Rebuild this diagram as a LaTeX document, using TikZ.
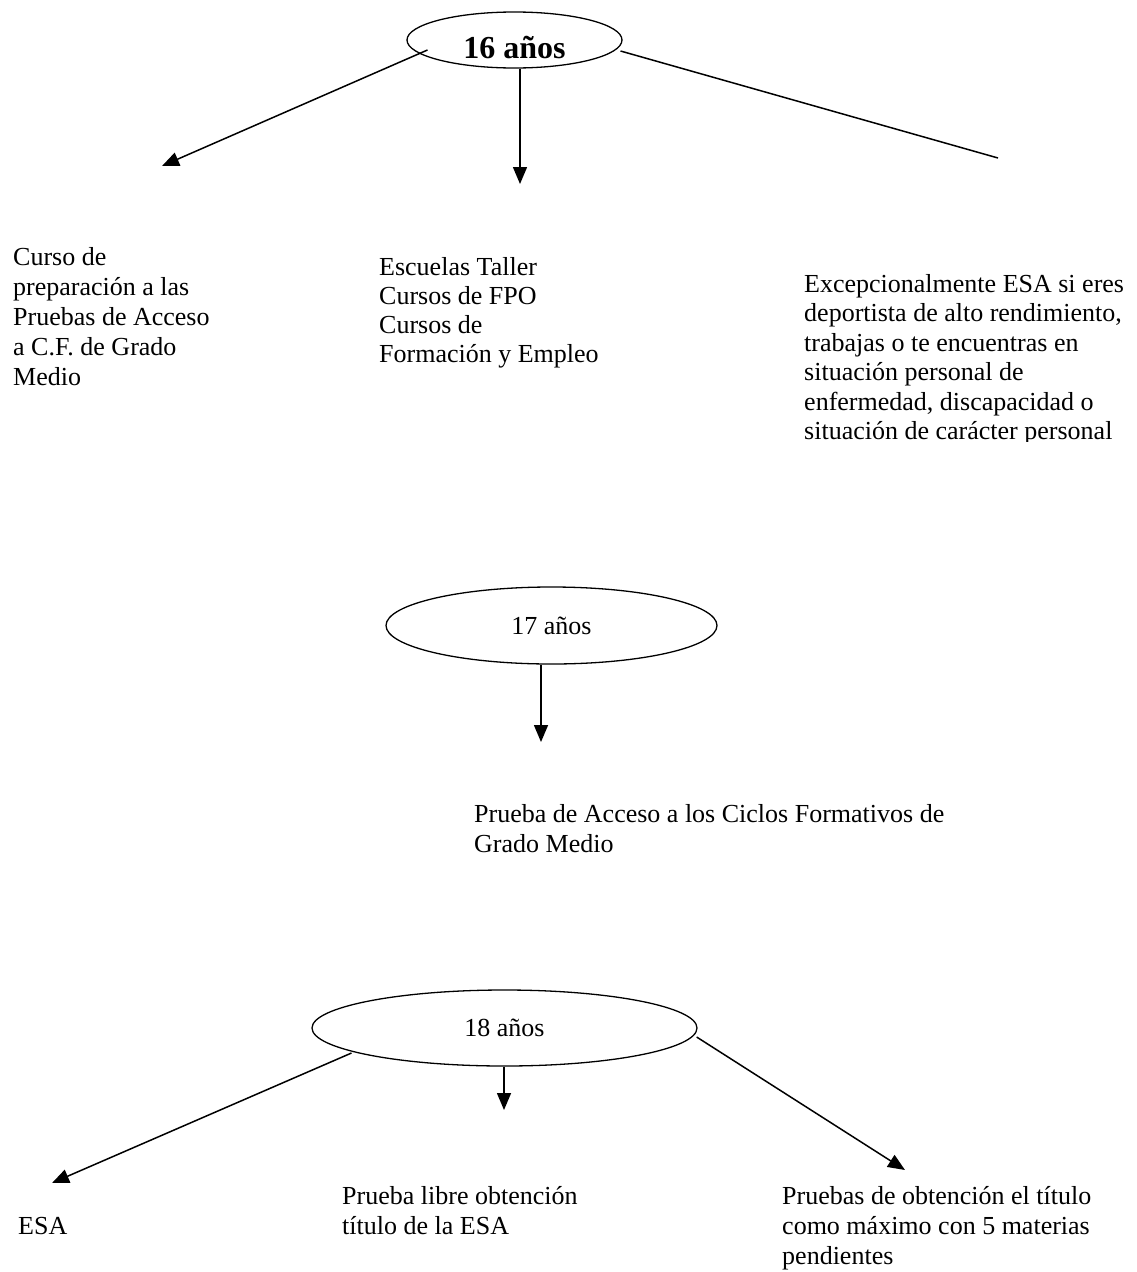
\documentclass[tikz,border=0pt]{standalone}
\usepackage{fontspec}
\setmainfont{Liberation Serif}
\usetikzlibrary{shapes.geometric,arrows.meta,calc}
\begin{document}
\begin{tikzpicture}[x=1pt,y=-1pt,
  txt/.style={font=\fontsize{26}{#1}\selectfont, align=left, inner sep=0pt, anchor=base west},
  txt/.default=30,
  age/.style={draw, ellipse, line width=1.3pt, inner sep=0pt, font=\fontsize{26}{30}\selectfont},
  conn/.style={line width=1.5pt},
  arr/.style={conn, -{Triangle[length=17pt,width=14pt]}}]
\useasboundingbox (0,0) rectangle (1137,1272);
\fill[white] (0,0) rectangle (1137,1272);

% 16 anos
\node[age, minimum width=215pt, minimum height=56pt, text height=37pt, text depth=0pt,
      font=\fontsize{32}{32}\selectfont\bfseries] (e16) at (514.5,40) {16 años};
\coordinate (a16l) at (162,166);
\coordinate (a16m) at (520,184);
\coordinate (a16r) at (998,158);
\draw[arr] ($(e16.center)+(-87,10)$) -- (a16l);
\draw[arr] (e16.south -| a16m) -- (a16m);
\draw[conn] ($(e16.center)+(106,11)$) -- (a16r);

\node[txt=30] (tl) at (13,385) {Curso de\\preparación a las\\Pruebas de Acceso\\a C.F. de Grado\\Medio};
\node[txt=29] (tm) at (379,362) {Escuelas Taller\\Cursos de FPO\\Cursos de\\Formación y Empleo};
\begin{scope}
\clip (780,240) rectangle (1137,441);
\node[txt=29.5] (tr) at (804,439.5) {Excepcionalmente ESA si eres\\deportista de alto rendimiento,\\trabajas o te encuentras en\\situación personal de\\enfermedad, discapacidad o\\situación de carácter personal};
\end{scope}

% 17 anos
\node[age, minimum width=331pt, minimum height=77pt] (e17) at (551.5,625.5) {17 años};
\coordinate (a17) at (541,742);
\draw[arr] (e17.south -| a17) -- (a17);
\node[txt=30] (tp) at (474,852) {Prueba de Acceso a los Ciclos Formativos de\\Grado Medio};

% 18 anos
\node[age, minimum width=385pt, minimum height=76pt] (e18) at (504.5,1028) {18 años};
\coordinate (a18l) at (52,1183);
\coordinate (a18m) at (504,1110);
\coordinate (a18r) at (905,1170);
\draw[arr] ($(e18.center)+(-153,25)$) -- (a18l);
\draw[arr] (e18.south -| a18m) -- (a18m);
\draw[arr] ($(e18.east)+(-1,9)$) -- (a18r);

\node[txt] (b1) at (18,1234) {ESA};
\node[txt=30] (b2) at (342,1234) {Prueba libre obtención\\título de la ESA};
\node[txt=30] (b3) at (782,1264) {Pruebas de obtención el título\\como máximo con 5 materias\\pendientes};
\end{tikzpicture}
\end{document}
